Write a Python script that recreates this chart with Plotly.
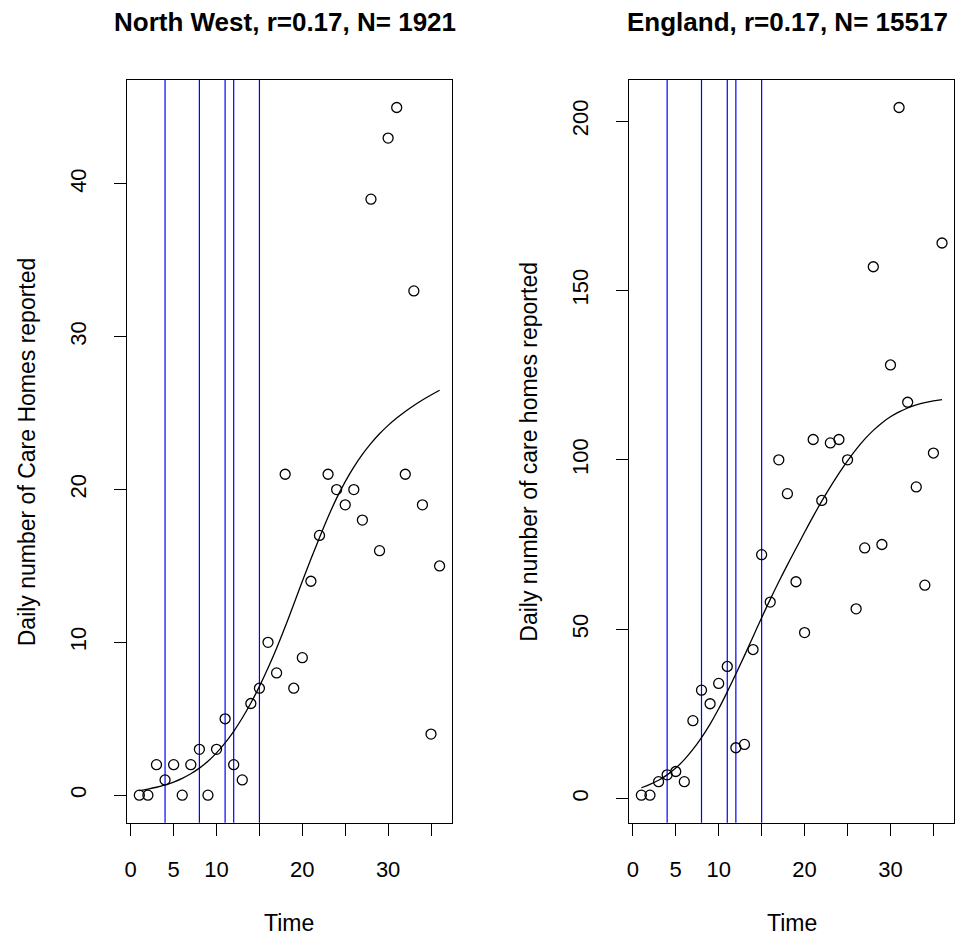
import plotly.graph_objects as go

# ---------------- data ----------------
time = list(range(1, 37))
nw_counts = [0, 0, 2, 1, 2, 0, 2, 3, 0, 3, 5, 2, 1, 6, 7, 10, 8, 21, 7, 9, 14, 17,
             21, 20, 19, 20, 18, 39, 16, 43, 45, 21, 33, 19, 4, 15]
eng_counts = [1, 1, 5, 7, 8, 5, 23, 32, 28, 34, 39, 15, 16, 44, 72, 58, 100, 90, 64,
              49, 106, 88, 105, 106, 100, 56, 74, 157, 75, 128, 204, 117, 92, 63, 102, 164]
nw_fit = [0.30, 0.40, 0.52, 0.67, 0.86, 1.10, 1.40, 1.77, 2.22, 2.77, 3.42, 4.18, 5.05,
          6.03, 7.12, 8.32, 9.62, 11.02, 12.50, 14.00, 15.45, 16.85, 18.20, 19.44, 20.52,
          21.47, 22.30, 23.02, 23.65, 24.20, 24.68, 25.11, 25.50, 25.86, 26.19, 26.50]
eng_fit = [3.2, 4.2, 5.4, 7.0, 9.0, 11.5, 14.5, 18.0, 22.0, 26.5, 31.5, 36.8, 42.2, 47.8,
           53.4, 58.8, 64.0, 69.0, 73.8, 78.6, 83.3, 87.8, 92.0, 96.0, 99.7, 103.1, 106.1,
           108.7, 110.9, 112.7, 114.15, 115.3, 116.2, 116.9, 117.4, 117.8]
event_days = [4, 8, 11, 12, 15]
titles = ["North West, r=0.17, N= 1921", "England, r=0.17, N= 15517"]
ylabels = ["Daily number of Care Homes reported", "Daily number of care homes reported"]
xlabel = "Time"
x_tickvals = [0, 5, 10, 15, 20, 25, 30, 35]
x_ticktext = ["0", "5", "10", "", "20", "", "30", ""]
y_ticks = [[0, 10, 20, 30, 40], [0, 50, 100, 150, 200]]

# ---------------- layout helpers ----------------
W, H = 969, 938
FONT = "Liberation Sans, Arial, Helvetica, sans-serif"
panels = [
    dict(x0=124.7, x1=450.0, ylab_x=24, counts=nw_counts, fit=nw_fit),
    dict(x0=628.3, x1=954.0, ylab_x=528, counts=eng_counts, fit=eng_fit),
]
ytop, ybot = 80.0, 822.7


def padded(vals):
    lo, hi = min(vals), max(vals)
    r = hi - lo
    return [lo - 0.04 * r, hi + 0.04 * r]


fig = go.Figure()
annotations = []
for i, p in enumerate(panels):
    n = "" if i == 0 else str(i + 1)
    xa, ya = "x" + n, "y" + n
    fig.add_trace(go.Scatter(
        x=time, y=p["counts"], mode="markers", xaxis=xa, yaxis=ya,
        marker=dict(symbol="circle-open", size=10, color="black", line=dict(width=1.3)),
        showlegend=False, hoverinfo="x+y"))
    fig.add_trace(go.Scatter(
        x=time, y=p["fit"], mode="lines", xaxis=xa, yaxis=ya,
        line=dict(color="black", width=1.3, shape="spline", smoothing=1.0),
        showlegend=False, hoverinfo="skip"))
    for d in event_days:
        fig.add_shape(type="line", xref=xa, yref=ya + " domain", x0=d, x1=d, y0=0, y1=1,
                      line=dict(color="#0000ff", width=1.2), layer="below")
    axis_common = dict(showgrid=False, zeroline=False, showline=True, mirror=True,
                       linecolor="black", linewidth=1, ticks="outside", ticklen=12,
                       tickwidth=1, tickcolor="black",
                       tickfont=dict(family=FONT, size=22, color="black"))
    xdom = [p["x0"] / W, p["x1"] / W]
    ydom = [1 - ybot / H, 1 - ytop / H]
    fig.update_layout(**{
        "xaxis" + n: dict(domain=xdom, anchor=ya, range=padded(time),
                          tickmode="array", tickvals=x_tickvals, ticktext=x_ticktext,
                          ticklabelstandoff=15, **axis_common),
        "yaxis" + n: dict(domain=ydom, anchor=xa, range=padded(p["counts"]),
                          tickmode="array", tickvals=y_ticks[i],
                          ticktext=[str(v) for v in y_ticks[i]],
                          tickangle=-90, ticklabelstandoff=20, **axis_common),
    })
    cx = (p["x0"] + p["x1"]) / 2
    annotations.append(dict(text="<b>" + titles[i] + "</b>", x=(cx - 4) / W, y=1 - 22 / H,
                            xref="paper", yref="paper", showarrow=False,
                            xanchor="center", yanchor="middle",
                            font=dict(family=FONT, size=26, color="black")))
    annotations.append(dict(text=xlabel, x=cx / W, y=1 - 923 / H,
                            xref="paper", yref="paper", showarrow=False,
                            xanchor="center", yanchor="middle",
                            font=dict(family=FONT, size=23, color="black")))
    annotations.append(dict(text=ylabels[i], x=p["ylab_x"] / W, y=1 - ((ytop + ybot) / 2) / H,
                            xref="paper", yref="paper", showarrow=False, textangle=-90,
                            xanchor="center", yanchor="middle",
                            font=dict(family=FONT, size=23, color="black")))

fig.update_layout(width=W, height=H, autosize=False,
                  margin=dict(l=0, r=0, t=0, b=0),
                  paper_bgcolor="white", plot_bgcolor="white",
                  annotations=annotations)

fig.write_html("out.html")
